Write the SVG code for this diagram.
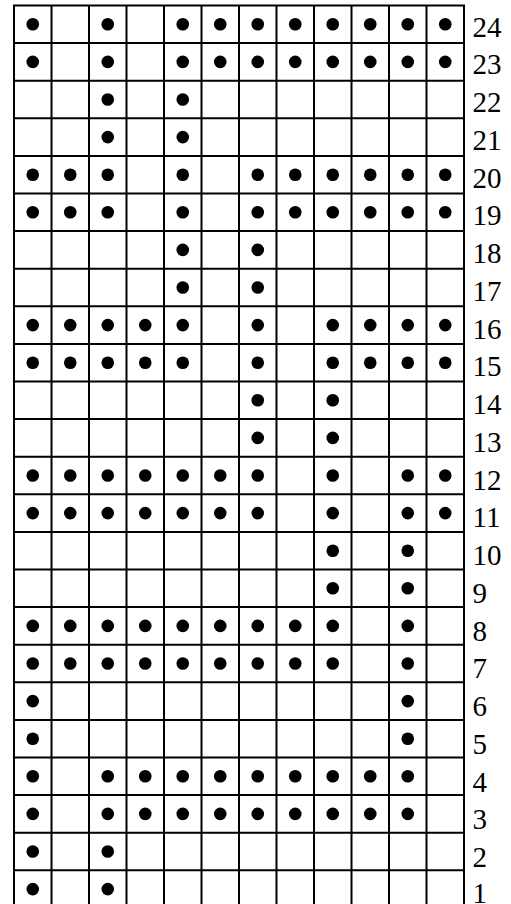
<svg xmlns="http://www.w3.org/2000/svg" width="511" height="904" viewBox="0 0 511 904">
<style>
.g{fill:none;stroke:#000;stroke-width:2;stroke-linecap:square}
.d{fill:#000}
.n{font-family:"Liberation Serif","Times New Roman",serif;font-size:29px;fill:#000}
</style>
<rect width="511" height="904" fill="#fff"/>
<g id="grid">
<path class="g" d="M14 5.5V910M51.5 5.5V910M89 5.5V910M126.5 5.5V910M164 5.5V910M201.5 5.5V910M239 5.5V910M276.5 5.5V910M314 5.5V910M351.5 5.5V910M389 5.5V910M426.5 5.5V910M464 5.5V910
M14 5.5H464M14 43.1H464M14 80.7H464M14 118.3H464M14 155.9H464M14 193.5H464M14 231.1H464M14 268.7H464M14 306.3H464M14 343.9H464M14 381.5H464M14 419.1H464M14 456.7H464M14 494.3H464M14 531.9H464M14 569.5H464M14 607.1H464M14 644.7H464M14 682.3H464M14 719.9H464M14 757.5H464M14 795.1H464M14 832.7H464M14 870.3H464M14 907.9H464"/>
</g>
<g id="dots" class="d">
<g id="r24"><circle cx="32.75" cy="24.3" r="6.3"/><circle cx="107.75" cy="24.3" r="6.3"/><circle cx="182.75" cy="24.3" r="6.3"/><circle cx="220.25" cy="24.3" r="6.3"/><circle cx="257.75" cy="24.3" r="6.3"/><circle cx="295.25" cy="24.3" r="6.3"/><circle cx="332.75" cy="24.3" r="6.3"/><circle cx="370.25" cy="24.3" r="6.3"/><circle cx="407.75" cy="24.3" r="6.3"/><circle cx="445.25" cy="24.3" r="6.3"/></g>
<g id="r23"><circle cx="32.75" cy="61.9" r="6.3"/><circle cx="107.75" cy="61.9" r="6.3"/><circle cx="182.75" cy="61.9" r="6.3"/><circle cx="220.25" cy="61.9" r="6.3"/><circle cx="257.75" cy="61.9" r="6.3"/><circle cx="295.25" cy="61.9" r="6.3"/><circle cx="332.75" cy="61.9" r="6.3"/><circle cx="370.25" cy="61.9" r="6.3"/><circle cx="407.75" cy="61.9" r="6.3"/><circle cx="445.25" cy="61.9" r="6.3"/></g>
<g id="r22"><circle cx="107.75" cy="99.5" r="6.3"/><circle cx="182.75" cy="99.5" r="6.3"/></g>
<g id="r21"><circle cx="107.75" cy="137.1" r="6.3"/><circle cx="182.75" cy="137.1" r="6.3"/></g>
<g id="r20"><circle cx="32.75" cy="174.7" r="6.3"/><circle cx="70.25" cy="174.7" r="6.3"/><circle cx="107.75" cy="174.7" r="6.3"/><circle cx="182.75" cy="174.7" r="6.3"/><circle cx="257.75" cy="174.7" r="6.3"/><circle cx="295.25" cy="174.7" r="6.3"/><circle cx="332.75" cy="174.7" r="6.3"/><circle cx="370.25" cy="174.7" r="6.3"/><circle cx="407.75" cy="174.7" r="6.3"/><circle cx="445.25" cy="174.7" r="6.3"/></g>
<g id="r19"><circle cx="32.75" cy="212.3" r="6.3"/><circle cx="70.25" cy="212.3" r="6.3"/><circle cx="107.75" cy="212.3" r="6.3"/><circle cx="182.75" cy="212.3" r="6.3"/><circle cx="257.75" cy="212.3" r="6.3"/><circle cx="295.25" cy="212.3" r="6.3"/><circle cx="332.75" cy="212.3" r="6.3"/><circle cx="370.25" cy="212.3" r="6.3"/><circle cx="407.75" cy="212.3" r="6.3"/><circle cx="445.25" cy="212.3" r="6.3"/></g>
<g id="r18"><circle cx="182.75" cy="249.9" r="6.3"/><circle cx="257.75" cy="249.9" r="6.3"/></g>
<g id="r17"><circle cx="182.75" cy="287.5" r="6.3"/><circle cx="257.75" cy="287.5" r="6.3"/></g>
<g id="r16"><circle cx="32.75" cy="325.1" r="6.3"/><circle cx="70.25" cy="325.1" r="6.3"/><circle cx="107.75" cy="325.1" r="6.3"/><circle cx="145.25" cy="325.1" r="6.3"/><circle cx="182.75" cy="325.1" r="6.3"/><circle cx="257.75" cy="325.1" r="6.3"/><circle cx="332.75" cy="325.1" r="6.3"/><circle cx="370.25" cy="325.1" r="6.3"/><circle cx="407.75" cy="325.1" r="6.3"/><circle cx="445.25" cy="325.1" r="6.3"/></g>
<g id="r15"><circle cx="32.75" cy="362.7" r="6.3"/><circle cx="70.25" cy="362.7" r="6.3"/><circle cx="107.75" cy="362.7" r="6.3"/><circle cx="145.25" cy="362.7" r="6.3"/><circle cx="182.75" cy="362.7" r="6.3"/><circle cx="257.75" cy="362.7" r="6.3"/><circle cx="332.75" cy="362.7" r="6.3"/><circle cx="370.25" cy="362.7" r="6.3"/><circle cx="407.75" cy="362.7" r="6.3"/><circle cx="445.25" cy="362.7" r="6.3"/></g>
<g id="r14"><circle cx="257.75" cy="400.3" r="6.3"/><circle cx="332.75" cy="400.3" r="6.3"/></g>
<g id="r13"><circle cx="257.75" cy="437.9" r="6.3"/><circle cx="332.75" cy="437.9" r="6.3"/></g>
<g id="r12"><circle cx="32.75" cy="475.5" r="6.3"/><circle cx="70.25" cy="475.5" r="6.3"/><circle cx="107.75" cy="475.5" r="6.3"/><circle cx="145.25" cy="475.5" r="6.3"/><circle cx="182.75" cy="475.5" r="6.3"/><circle cx="220.25" cy="475.5" r="6.3"/><circle cx="257.75" cy="475.5" r="6.3"/><circle cx="332.75" cy="475.5" r="6.3"/><circle cx="407.75" cy="475.5" r="6.3"/><circle cx="445.25" cy="475.5" r="6.3"/></g>
<g id="r11"><circle cx="32.75" cy="513.1" r="6.3"/><circle cx="70.25" cy="513.1" r="6.3"/><circle cx="107.75" cy="513.1" r="6.3"/><circle cx="145.25" cy="513.1" r="6.3"/><circle cx="182.75" cy="513.1" r="6.3"/><circle cx="220.25" cy="513.1" r="6.3"/><circle cx="257.75" cy="513.1" r="6.3"/><circle cx="332.75" cy="513.1" r="6.3"/><circle cx="407.75" cy="513.1" r="6.3"/><circle cx="445.25" cy="513.1" r="6.3"/></g>
<g id="r10"><circle cx="332.75" cy="550.7" r="6.3"/><circle cx="407.75" cy="550.7" r="6.3"/></g>
<g id="r9"><circle cx="332.75" cy="588.3" r="6.3"/><circle cx="407.75" cy="588.3" r="6.3"/></g>
<g id="r8"><circle cx="32.75" cy="625.9" r="6.3"/><circle cx="70.25" cy="625.9" r="6.3"/><circle cx="107.75" cy="625.9" r="6.3"/><circle cx="145.25" cy="625.9" r="6.3"/><circle cx="182.75" cy="625.9" r="6.3"/><circle cx="220.25" cy="625.9" r="6.3"/><circle cx="257.75" cy="625.9" r="6.3"/><circle cx="295.25" cy="625.9" r="6.3"/><circle cx="332.75" cy="625.9" r="6.3"/><circle cx="407.75" cy="625.9" r="6.3"/></g>
<g id="r7"><circle cx="32.75" cy="663.5" r="6.3"/><circle cx="70.25" cy="663.5" r="6.3"/><circle cx="107.75" cy="663.5" r="6.3"/><circle cx="145.25" cy="663.5" r="6.3"/><circle cx="182.75" cy="663.5" r="6.3"/><circle cx="220.25" cy="663.5" r="6.3"/><circle cx="257.75" cy="663.5" r="6.3"/><circle cx="295.25" cy="663.5" r="6.3"/><circle cx="332.75" cy="663.5" r="6.3"/><circle cx="407.75" cy="663.5" r="6.3"/></g>
<g id="r6"><circle cx="32.75" cy="701.1" r="6.3"/><circle cx="407.75" cy="701.1" r="6.3"/></g>
<g id="r5"><circle cx="32.75" cy="738.7" r="6.3"/><circle cx="407.75" cy="738.7" r="6.3"/></g>
<g id="r4"><circle cx="32.75" cy="776.3" r="6.3"/><circle cx="107.75" cy="776.3" r="6.3"/><circle cx="145.25" cy="776.3" r="6.3"/><circle cx="182.75" cy="776.3" r="6.3"/><circle cx="220.25" cy="776.3" r="6.3"/><circle cx="257.75" cy="776.3" r="6.3"/><circle cx="295.25" cy="776.3" r="6.3"/><circle cx="332.75" cy="776.3" r="6.3"/><circle cx="370.25" cy="776.3" r="6.3"/><circle cx="407.75" cy="776.3" r="6.3"/></g>
<g id="r3"><circle cx="32.75" cy="813.9" r="6.3"/><circle cx="107.75" cy="813.9" r="6.3"/><circle cx="145.25" cy="813.9" r="6.3"/><circle cx="182.75" cy="813.9" r="6.3"/><circle cx="220.25" cy="813.9" r="6.3"/><circle cx="257.75" cy="813.9" r="6.3"/><circle cx="295.25" cy="813.9" r="6.3"/><circle cx="332.75" cy="813.9" r="6.3"/><circle cx="370.25" cy="813.9" r="6.3"/><circle cx="407.75" cy="813.9" r="6.3"/></g>
<g id="r2"><circle cx="32.75" cy="851.5" r="6.3"/><circle cx="107.75" cy="851.5" r="6.3"/></g>
<g id="r1"><circle cx="32.75" cy="889.1" r="6.3"/><circle cx="107.75" cy="889.1" r="6.3"/></g>
</g>
<g id="labels" class="n">
<text x="472.5" y="36.7">24</text>
<text x="472.5" y="74.4">23</text>
<text x="472.5" y="112.2">22</text>
<text x="472.5" y="149.9">21</text>
<text x="472.5" y="187.7">20</text>
<text x="472.5" y="225.4">19</text>
<text x="472.5" y="263.1">18</text>
<text x="472.5" y="300.9">17</text>
<text x="472.5" y="338.6">16</text>
<text x="472.5" y="376.4">15</text>
<text x="472.5" y="414.1">14</text>
<text x="472.5" y="451.8">13</text>
<text x="472.5" y="489.6">12</text>
<text x="472.5" y="527.3">11</text>
<text x="472.5" y="565.1">10</text>
<text x="472.5" y="602.8">9</text>
<text x="472.5" y="640.5">8</text>
<text x="472.5" y="678.3">7</text>
<text x="472.5" y="716">6</text>
<text x="472.5" y="753.8">5</text>
<text x="472.5" y="791.5">4</text>
<text x="472.5" y="829.2">3</text>
<text x="472.5" y="867">2</text>
<text x="472.5" y="903">1</text>
</g>
</svg>
